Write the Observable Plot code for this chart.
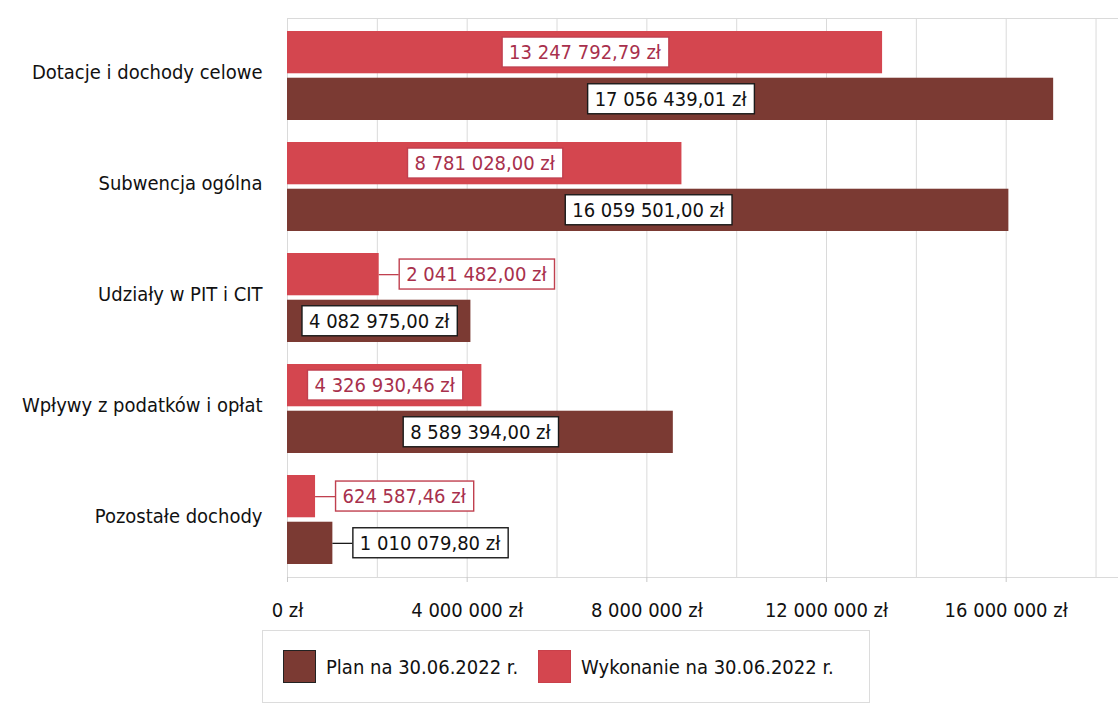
<!DOCTYPE html>
<html>
<head>
<meta charset="utf-8">
<script src="https://cdn.jsdelivr.net/npm/d3@7"></script>
<script src="https://cdn.jsdelivr.net/npm/@observablehq/plot@0.6"></script>
<style>
  html, body { margin: 0; padding: 0; background: #fff; }
  body { width: 1118px; height: 706px; position: relative; overflow: hidden;
         font-family: "DejaVu Sans Condensed", "DejaVu Sans", sans-serif; }
  #chart { position: absolute; left: 0; top: 0; }
  #legend { position: absolute; left: 262px; top: 630px; width: 608px; height: 73px;
            border: 1px solid #dcdcdc; box-sizing: border-box; display: flex; align-items: center;
            padding-left: 20px; font-size: 20px; color: #111; }
  .item { display: flex; align-items: center; margin-right: 20px; }
  .sw { width: 33px; height: 33px; box-sizing: border-box; margin-right: 10px; }
</style>
</head>
<body>
<div id="chart"></div>
<div id="legend"></div>
<script>
// ---- data ----
const categories = [
  "Dotacje i dochody celowe",
  "Subwencja ogólna",
  "Udziały w PIT i CIT",
  "Wpływy z podatków i opłat",
  "Pozostałe dochody"
];
const plan = [17056439.01, 16059501.00, 4082975.00, 8589394.00, 1010079.80];
const wykonanie = [13247792.79, 8781028.00, 2041482.00, 4326930.46, 624587.46];
const seriesNames = ["Plan na 30.06.2022 r.", "Wykonanie na 30.06.2022 r."];
const xTicks = [0, 4000000, 8000000, 12000000, 16000000];
const gridTicks = [0, 2000000, 4000000, 6000000, 8000000, 10000000, 12000000, 14000000, 16000000, 18000000];

// ---- styles ----
const colPlan = "#7b3a33";
const colWyk = "#d4464f";
const txtWyk = "#a8304c";
const boxWyk = "#c0404f";
const boxPlan = "#1a1a1a";
const FONT = '"DejaVu Sans Condensed", "DejaVu Sans", sans-serif';

const locale = d3.formatLocale({decimal: ",", thousands: "\u00a0", grouping: [3], currency: ["", " zł"]});
const fmtTick = v => locale.format(",.0f")(v) + " zł";
const fmtVal = v => locale.format(",.2f")(v) + " zł";

const rows = categories.map((c, i) => ({category: c, plan: plan[i], wyk: wykonanie[i]}));
const fits = v => v >= 3000000; // label fits inside the bar

const W = 1118, H = 630, mT = 18, mB = 53, mL = 287, mR = 0;
const step = (H - mT - mB) / categories.length;
const bw = step * 0.8;
const half = bw / 2 + 2;
const off = bw / 4 + 1;

const chart = Plot.plot({
  width: W, height: H,
  marginTop: mT, marginBottom: mB, marginLeft: mL, marginRight: mR,
  style: {fontFamily: FONT, fontSize: "20px", color: "#111", background: "#fff"},
  x: {domain: [0, 18500000], axis: null},
  y: {domain: categories, paddingInner: 0.2, paddingOuter: 0.1, axis: null},
  marks: [
    Plot.gridX(gridTicks, {stroke: "#dadada", strokeOpacity: 1}),
    Plot.frame({stroke: "#dadada"}),
    Plot.axisX(xTicks, {tickFormat: fmtTick, tickSize: 5, tickPadding: 20, stroke: "#c8c8c8", fill: "#111", fontSize: 20}),
    Plot.axisY({tickSize: 0, tickPadding: 25, label: null, fill: "#111", fontSize: 20, dy: -3}),
    Plot.barX(rows, {x: "wyk", y: "category", fill: colWyk, insetBottom: half}),
    Plot.barX(rows, {x: "plan", y: "category", fill: colPlan, insetTop: half}),
    // leader lines for outside labels
    Plot.ruleY(rows.filter(d => !fits(d.wyk)), {y: "category", x1: "wyk", x2: "wyk", insetRight: -20, dy: -off, stroke: boxWyk, strokeWidth: 1.3}),
    Plot.ruleY(rows.filter(d => !fits(d.plan)), {y: "category", x1: "plan", x2: "plan", insetRight: -20, dy: off, stroke: boxPlan, strokeWidth: 1.3}),
    // inside labels
    Plot.text(rows.filter(d => fits(d.wyk)), {x: d => d.wyk / 2, y: "category", text: d => fmtVal(d.wyk), dy: -off, fill: txtWyk, fontSize: 20, ariaDescription: "lab-wyk"}),
    Plot.text(rows.filter(d => fits(d.plan)), {x: d => d.plan / 2, y: "category", text: d => fmtVal(d.plan), dy: off, fill: "#111", fontSize: 20, ariaDescription: "lab-plan"}),
    // outside labels
    Plot.text(rows.filter(d => !fits(d.wyk)), {x: "wyk", y: "category", text: d => fmtVal(d.wyk), dy: -off, dx: 27, textAnchor: "start", fill: txtWyk, fontSize: 20, ariaDescription: "lab-wyk"}),
    Plot.text(rows.filter(d => !fits(d.plan)), {x: "plan", y: "category", text: d => fmtVal(d.plan), dy: off, dx: 27, textAnchor: "start", fill: "#111", fontSize: 20, ariaDescription: "lab-plan"})
  ]
});
document.getElementById("chart").appendChild(chart);

// white boxes behind data labels
function boxes(label, stroke) {
  chart.querySelectorAll(`g[aria-description="${label}"] text`).forEach(t => {
    const b = t.getBBox();
    const r = document.createElementNS("http://www.w3.org/2000/svg", "rect");
    r.setAttribute("x", b.x - 7);
    r.setAttribute("y", b.y - 3);
    r.setAttribute("width", b.width + 14);
    r.setAttribute("height", b.height + 6);
    r.setAttribute("fill", "#fff");
    r.setAttribute("stroke", stroke);
    r.setAttribute("stroke-width", 1.4);
    if (t.getAttribute("transform")) r.setAttribute("transform", t.getAttribute("transform"));
    t.parentNode.insertBefore(r, t);
  });
}
boxes("lab-wyk", boxWyk);
boxes("lab-plan", boxPlan);

// legend
const legend = document.getElementById("legend");
[[seriesNames[0], colPlan, "#222"], [seriesNames[1], colWyk, "#c9404a"]].forEach(([name, fill, border]) => {
  const it = document.createElement("div"); it.className = "item";
  const sw = document.createElement("div"); sw.className = "sw";
  sw.style.background = fill; sw.style.border = "1px solid " + border;
  const tx = document.createElement("span"); tx.textContent = name;
  it.appendChild(sw); it.appendChild(tx); legend.appendChild(it);
});
</script>
</body>
</html>
